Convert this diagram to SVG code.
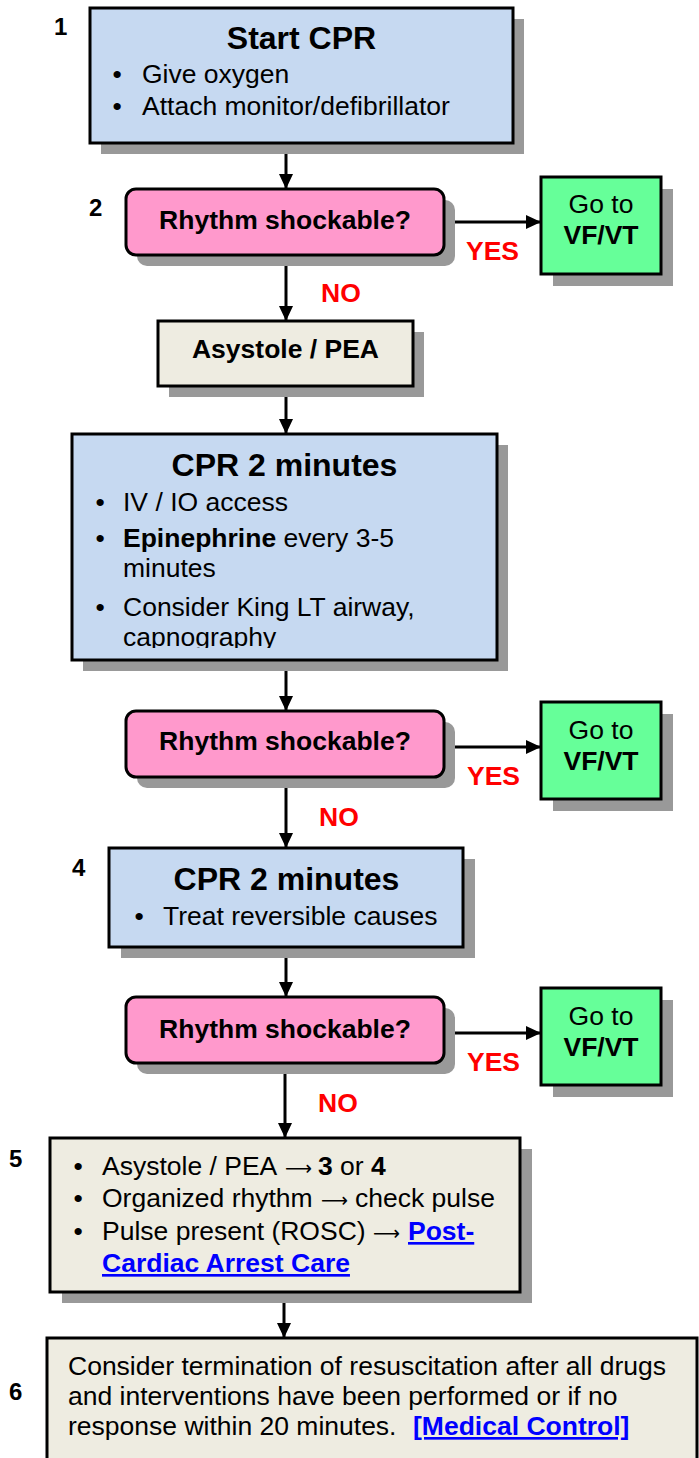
<svg xmlns="http://www.w3.org/2000/svg" width="699" height="1458" viewBox="0 0 699 1458">
  <style>
    text { font-family: "Liberation Sans", Arial, sans-serif; fill: #000; }
    .box { stroke: #000; stroke-width: 3; }
    .shadow { fill: #999999; }
    .blue { fill: #C6D9F1; }
    .pink { fill: #FF99CC; }
    .green { fill: #66FF99; }
    .beige { fill: #EEECE1; }
    .title { font-size: 32px; font-weight: bold; text-anchor: middle; }
    .body { font-size: 26.5px; }
    .bold { font-weight: bold; }
    .center { text-anchor: middle; }
    .step { font-size: 24px; font-weight: bold; }
    .edge-label { font-size: 26.5px; font-weight: bold; fill: #FF0000; }
    .link { fill: #0000FF; font-weight: bold; text-decoration: underline; }
    .arr { font-family: "DejaVu Sans", sans-serif; font-size: 20px; }
    .conn { stroke: #000; stroke-width: 3; fill: none; marker-end: url(#arrow); }
  </style>
  <defs>
    <marker id="arrow" markerUnits="userSpaceOnUse" markerWidth="16" markerHeight="15" refX="15" refY="7" orient="auto">
      <path d="M0,0 L15,7 L0,14 z" fill="#000"/>
    </marker>
    <clipPath id="clip-cpr1">
      <rect x="72" y="434" width="425" height="214"/>
    </clipPath>
  </defs>

  <rect width="699" height="1458" fill="#FFFFFF"/>

  <!-- step numbers -->
  <g id="step-numbers">
    <text class="step" x="54" y="35">1</text>
    <text class="step" x="89" y="216">2</text>
    <text class="step" x="72" y="876">4</text>
    <text class="step" x="9" y="1167">5</text>
    <text class="step" x="9" y="1400">6</text>
  </g>

  <!-- connectors -->
  <g id="connectors">
    <line class="conn" x1="286" y1="143" x2="286" y2="189"/>
    <line class="conn" x1="444" y1="222" x2="541" y2="222"/>
    <line class="conn" x1="286" y1="255" x2="286" y2="321"/>
    <line class="conn" x1="286" y1="386" x2="286" y2="434"/>
    <line class="conn" x1="286" y1="660" x2="286" y2="711"/>
    <line class="conn" x1="444" y1="747" x2="541" y2="747"/>
    <line class="conn" x1="286" y1="777" x2="286" y2="848"/>
    <line class="conn" x1="286" y1="947" x2="286" y2="997"/>
    <line class="conn" x1="444" y1="1033" x2="541" y2="1033"/>
    <line class="conn" x1="285" y1="1063" x2="285" y2="1138"/>
    <line class="conn" x1="284" y1="1292" x2="284" y2="1338"/>
    <text class="edge-label" x="466" y="260">YES</text>
    <text class="edge-label" x="321" y="302">NO</text>
    <text class="edge-label" x="467" y="785">YES</text>
    <text class="edge-label" x="319" y="826">NO</text>
    <text class="edge-label" x="467" y="1071">YES</text>
    <text class="edge-label" x="318" y="1112">NO</text>
  </g>

  <!-- 1: start CPR -->
  <g id="start-cpr">
    <rect class="shadow" x="101" y="19" width="423" height="135"/>
    <rect class="box blue" x="90" y="8" width="423" height="135"/>
    <text class="title" x="301.5" y="49">Start CPR</text>
    <text class="body" x="112.4" y="83">•</text>
    <text class="body" x="142" y="83">Give oxygen</text>
    <text class="body" x="112.4" y="115">•</text>
    <text class="body" x="142" y="115">Attach monitor/defibrillator</text>
  </g>

  <!-- 2: first rhythm check -->
  <g id="rhythm-check-1">
    <rect class="shadow" x="137" y="200" width="318" height="66" rx="10"/>
    <rect class="box pink" x="126" y="189" width="318" height="66" rx="10"/>
    <text class="body bold center" x="285" y="229">Rhythm shockable?</text>
  </g>
  <g id="vfvt-1">
    <rect class="shadow" x="553" y="189" width="120" height="97"/>
    <rect class="box green" x="541" y="177" width="120" height="97"/>
    <text class="body center" x="601" y="213">Go to</text>
    <text class="body bold center" x="601" y="244">VF/VT</text>
  </g>

  <!-- asystole / PEA -->
  <g id="asystole-pea">
    <rect class="shadow" x="169" y="332" width="255" height="65"/>
    <rect class="box beige" x="158" y="321" width="255" height="65"/>
    <text class="body bold center" x="285.5" y="358">Asystole / PEA</text>
  </g>

  <!-- 3: CPR with epinephrine -->
  <g id="cpr-epinephrine">
    <rect class="shadow" x="83" y="445" width="425" height="226"/>
    <rect class="box blue" x="72" y="434" width="425" height="226"/>
    <text class="title" x="284.5" y="476">CPR 2 minutes</text>
    <g clip-path="url(#clip-cpr1)">
      <text class="body" x="95.4" y="511">•</text>
      <text class="body" x="123" y="511">IV / IO access</text>
      <text class="body" x="95.4" y="547">•</text>
      <text class="body" x="123" y="547"><tspan class="bold">Epinephrine</tspan> every 3-5</text>
      <text class="body" x="123" y="577">minutes</text>
      <text class="body" x="95.4" y="616">•</text>
      <text class="body" x="123" y="616">Consider King LT airway,</text>
      <text class="body" x="123" y="646">capnography</text>
    </g>
  </g>

  <!-- second rhythm check -->
  <g id="rhythm-check-2">
    <rect class="shadow" x="137" y="722" width="318" height="66" rx="10"/>
    <rect class="box pink" x="126" y="711" width="318" height="66" rx="10"/>
    <text class="body bold center" x="285" y="750">Rhythm shockable?</text>
  </g>
  <g id="vfvt-2">
    <rect class="shadow" x="553" y="714" width="120" height="97"/>
    <rect class="box green" x="541" y="702" width="120" height="97"/>
    <text class="body center" x="601" y="739">Go to</text>
    <text class="body bold center" x="601" y="770">VF/VT</text>
  </g>

  <!-- 4: CPR, reversible causes -->
  <g id="cpr-reversible">
    <rect class="shadow" x="121" y="859" width="354" height="99"/>
    <rect class="box blue" x="109" y="848" width="354" height="99"/>
    <text class="title" x="286.5" y="890">CPR 2 minutes</text>
    <text class="body" x="134.4" y="925">•</text>
    <text class="body" x="163" y="925">Treat reversible causes</text>
  </g>

  <!-- third rhythm check -->
  <g id="rhythm-check-3">
    <rect class="shadow" x="137" y="1008" width="318" height="66" rx="10"/>
    <rect class="box pink" x="126" y="997" width="318" height="66" rx="10"/>
    <text class="body bold center" x="285" y="1038">Rhythm shockable?</text>
  </g>
  <g id="vfvt-3">
    <rect class="shadow" x="553" y="1000" width="120" height="97"/>
    <rect class="box green" x="541" y="988" width="120" height="97"/>
    <text class="body center" x="601" y="1025">Go to</text>
    <text class="body bold center" x="601" y="1056">VF/VT</text>
  </g>

  <!-- 5: outcome; the long arrows are separate runs stretched to a fixed width -->
  <g id="outcome">
    <rect class="shadow" x="62" y="1149" width="470" height="154"/>
    <rect class="box beige" x="50" y="1138" width="470" height="154"/>
    <text class="body" x="73.4" y="1175">•</text>
    <text class="body" x="102" y="1175">Asystole / PEA</text>
    <text class="arr" x="285" y="1175" textLength="27" lengthAdjust="spacingAndGlyphs">⟶</text>
    <text class="body" x="318" y="1175"><tspan class="bold">3</tspan> or <tspan class="bold">4</tspan></text>
    <text class="body" x="73.4" y="1207">•</text>
    <text class="body" x="102" y="1207">Organized rhythm</text>
    <text class="arr" x="321" y="1207" textLength="27" lengthAdjust="spacingAndGlyphs">⟶</text>
    <text class="body" x="355" y="1207">check pulse</text>
    <text class="body" x="73.4" y="1240">•</text>
    <text class="body" x="102" y="1240">Pulse present (ROSC)</text>
    <text class="arr" x="373" y="1240" textLength="27" lengthAdjust="spacingAndGlyphs">⟶</text>
    <text class="body link" x="408" y="1240">Post-</text>
    <text class="body link" x="102" y="1272">Cardiac Arrest Care</text>
  </g>

  <!-- 6: termination -->
  <g id="termination">
    <rect class="box beige" x="47" y="1338" width="650" height="140"/>
    <text class="body" x="68" y="1375">Consider termination of resuscitation after all drugs</text>
    <text class="body" x="68" y="1405">and interventions have been performed or if no</text>
    <text class="body" x="68" y="1435">response within 20 minutes.  <tspan class="link" x="413">[Medical Control]</tspan></text>
  </g>
</svg>
